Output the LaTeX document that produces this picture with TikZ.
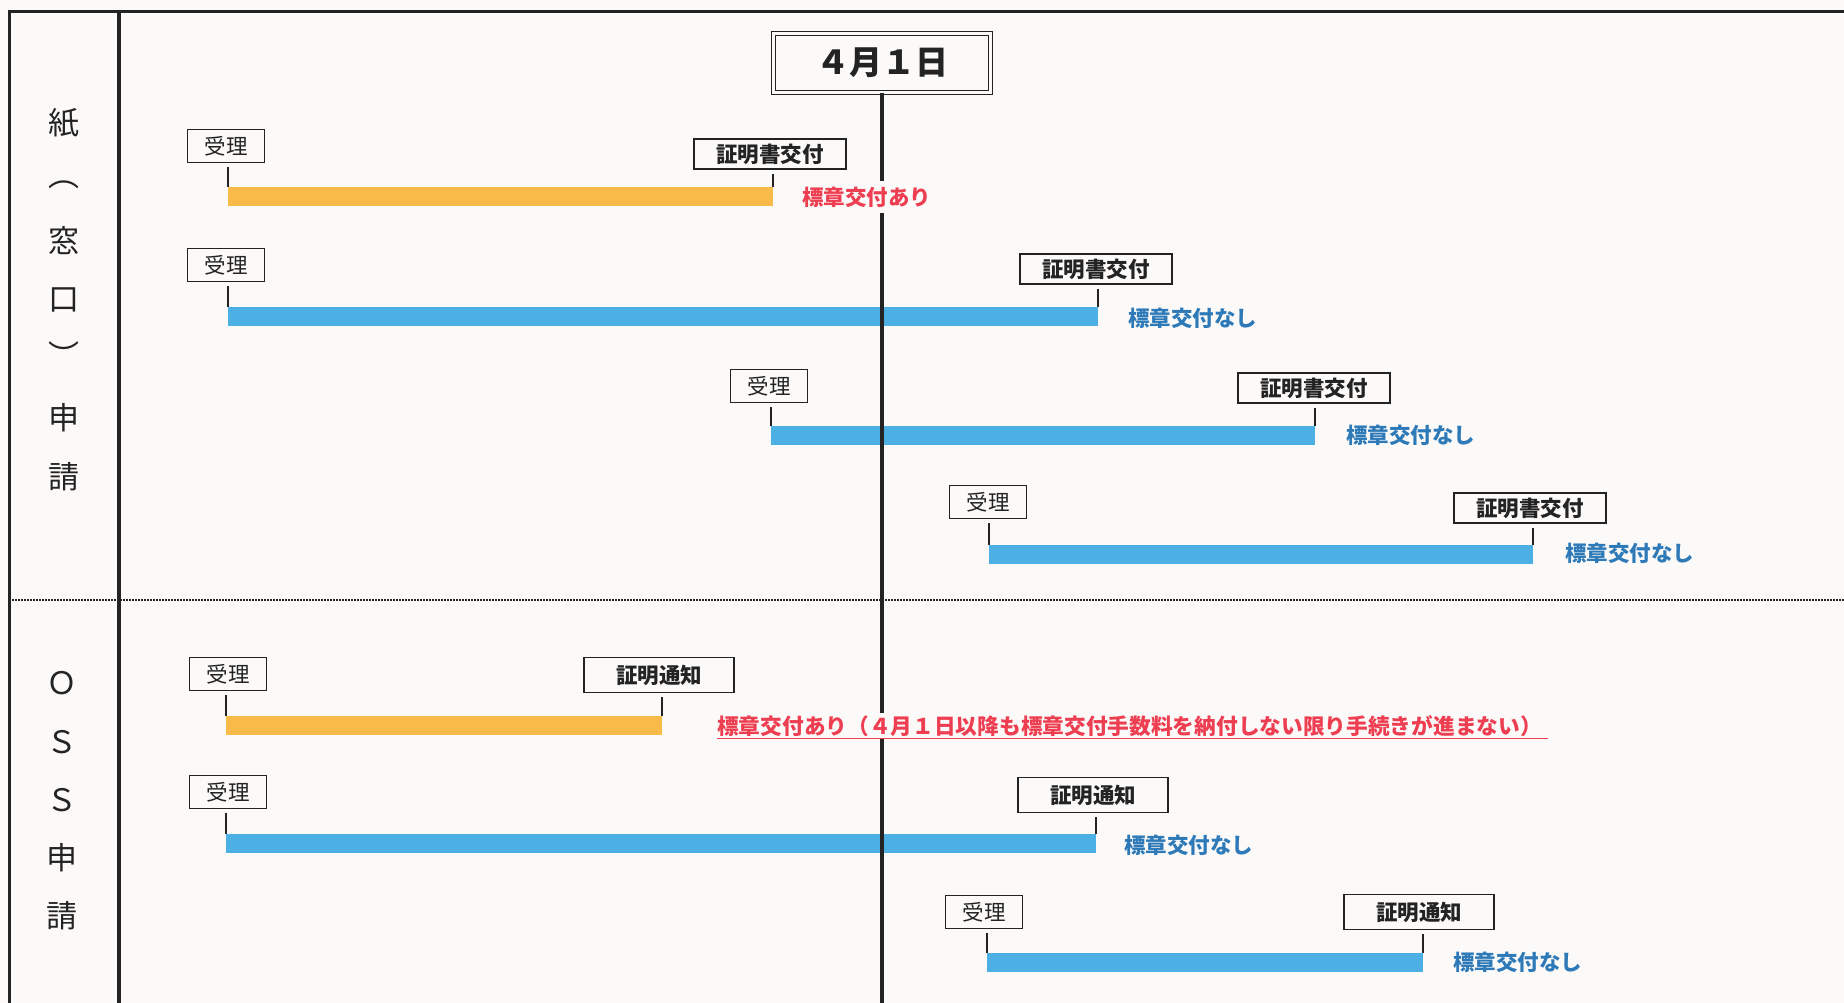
\documentclass[tikz,border=0pt]{standalone}
\usepackage{fontspec}
\setmainfont{Noto Sans CJK JP}
\definecolor{bgc}{RGB}{252,250,248}
\definecolor{barorange}{RGB}{248,186,72}
\definecolor{barblue}{RGB}{76,176,228}
\definecolor{lblblue}{RGB}{46,122,184}
\definecolor{lblred}{RGB}{238,62,82}
\definecolor{ink}{RGB}{35,35,35}
\tikzset{
  boxbase/.style={draw=ink, line width=1.3pt, fill=bgc, inner sep=0pt, text=ink},
  recvbox/.style={boxbase, minimum width=77pt, minimum height=33pt, font=\fontsize{21.5pt}{24pt}\selectfont},
  certbox/.style={boxbase, minimum width=152pt, minimum height=30pt, font=\fontsize{21.5pt}{24pt}\selectfont\bfseries},
  notebox/.style={boxbase, minimum width=150pt, minimum height=35pt, font=\fontsize{21.5pt}{24pt}\selectfont\bfseries},
  orbar/.style={fill=barorange, draw=none, inner sep=0pt, minimum height=19pt, anchor=north west},
  blbar/.style={fill=barblue, draw=none, inner sep=0pt, minimum height=19pt, anchor=north west},
  tickln/.style={draw=ink, line width=2pt, shorten >=4pt},
  nolbl/.style={text=lblblue, anchor=west, inner sep=2pt, font=\fontsize{21.5pt}{24pt}\selectfont\bfseries},
  yeslbl/.style={text=lblred, anchor=west, fill=bgc, inner xsep=0pt, inner ysep=6pt, font=\fontsize{21.5pt}{24pt}\selectfont\bfseries},
  sidech/.style={text=ink, inner sep=0pt, font=\fontsize{31pt}{34pt}\selectfont},
}
\begin{document}
\begin{tikzpicture}[x=1pt,y=-1pt]
\fill[bgc] (0,0) rectangle (1844,1003);
\useasboundingbox (0,0) rectangle (1844,1003);

% frame
\coordinate (ftl) at (9,12);
\coordinate (fbl) at (9,1003);
\coordinate (ftr) at (1844,12);
\coordinate (itop) at (119,12);
\coordinate (ibot) at (119,1003);
\coordinate (dl) at (9,600);
\coordinate (dr) at (1844,600);
\draw[ink, line width=3pt] (fbl) -- (ftl) -- (ftr);
\draw[ink, line width=4pt] (itop) -- (ibot);
\draw[ink, line width=1.6pt, dash pattern=on 1.6pt off 1.4pt] (dl) -- (dr);

% side labels
\node[sidech] (s1) at (64,123) {紙};
\node[sidech] (s2) at (64,185) {︵};
\node[sidech] (s3) at (64,241) {窓};
\node[sidech] (s4) at (64,300) {口};
\node[sidech] (s5) at (64,355) {︶};
\node[sidech] (s6) at (64,418) {申};
\node[sidech] (s7) at (64,477) {請};

\node[sidech] (t1) at (62,683) {Ｏ};
\node[sidech] (t2) at (62,742) {Ｓ};
\node[sidech] (t3) at (62,800) {Ｓ};
\node[sidech] (t4) at (62,858) {申};
\node[sidech] (t5) at (62,916) {請};

% bars
\node[orbar, minimum width=545pt] (b1) at (228,187) {};
\node[blbar, minimum width=870pt] (b2) at (228,307) {};
\node[blbar, minimum width=544pt] (b3) at (771,426) {};
\node[blbar, minimum width=544pt] (b4) at (989,545) {};
\node[orbar, minimum width=436pt] (o1) at (226,716) {};
\node[blbar, minimum width=870pt] (o2) at (226,834) {};
\node[blbar, minimum width=436pt] (o3) at (987,953) {};

% boxes
\node[recvbox] (u1) at (226,146) {受理};
\node[certbox] (c1) at (770,154) {証明書交付};
\node[recvbox] (u2) at (226,265) {受理};
\node[certbox] (c2) at (1096,269) {証明書交付};
\node[recvbox] (u3) at (769,386) {受理};
\node[certbox] (c3) at (1314,388) {証明書交付};
\node[recvbox] (u4) at (988,502) {受理};
\node[certbox] (c4) at (1530,508) {証明書交付};
\node[recvbox] (v1) at (228,674) {受理};
\node[notebox] (n1) at (659,675) {証明通知};
\node[recvbox] (v2) at (228,792) {受理};
\node[notebox] (n2) at (1093,795) {証明通知};
\node[recvbox] (v3) at (984,912) {受理};
\node[notebox] (n3) at (1419,912) {証明通知};

% ticks
\foreach \b/\u/\c in {b1/u1/c1, b2/u2/c2, b3/u3/c3, b4/u4/c4, o1/v1/n1, o2/v2/n2, o3/v3/n3}{
  \draw[tickln] (\b.north west) -- (\b.north west |- \u.south);
  \draw[tickln] (\b.north east) -- (\b.north east |- \c.south);
}

% date line and box
\node[draw=ink, double=bgc, double distance=2.4pt, line width=1.3pt, fill=bgc,
      minimum width=217pt, minimum height=59pt, inner sep=0pt, text=ink,
      font=\fontsize{33pt}{36pt}\selectfont\bfseries] (date) at (882,63) {４月１日};
\coordinate (dbot) at (882,1003);
\draw[ink, line width=4.5pt] (date.south) -- (dbot);

% labels
\node[yeslbl] (l1) at (802,197) {標章交付あり};
\node[nolbl] (l2) at (1126,318) {標章交付なし};
\node[nolbl] (l3) at (1344,435) {標章交付なし};
\node[nolbl] (l4) at (1563,553) {標章交付なし};
\node[yeslbl, inner ysep=2pt, font=\fontsize{21.7pt}{24pt}\selectfont\bfseries] (m1) at (717,726) {標章交付あり（４月１日以降も標章交付手数料を納付しない限り手続きが進まない）};
\coordinate (m1u) at ([xshift=6pt]m1.south east);
\draw[lblred, line width=1.3pt] (m1.south west) -- (m1u);
\node[nolbl] (m2) at (1122,845) {標章交付なし};
\node[nolbl] (m3) at (1451,962) {標章交付なし};
\end{tikzpicture}
\end{document}
